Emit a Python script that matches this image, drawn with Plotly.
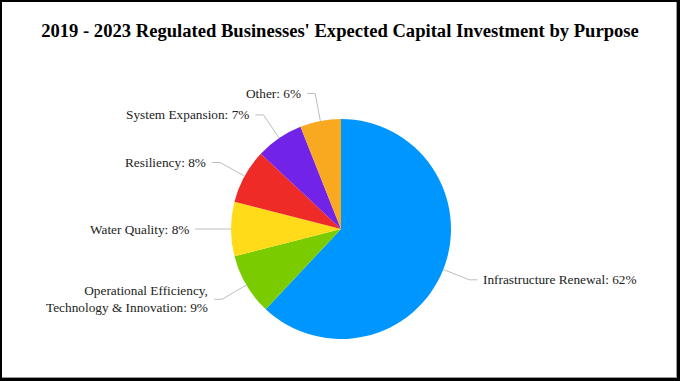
import math
import plotly.graph_objects as go

categories = ["Infrastructure Renewal", "Operational Efficiency,<br>Technology & Innovation",
              "Water Quality", "Resiliency", "System Expansion", "Other"]
values = [62, 9, 8, 8, 7, 6]
colors = ["#0096FF", "#7ACC00", "#FFDB1A", "#EE2B26", "#7123E8", "#F9A91F"]
title_text = "2019 - 2023 Regulated Businesses' Expected Capital Investment by Purpose"

W, H = 680, 381
cx, cy, R = 341, 229, 110  # pie centre/radius in px (top-left origin)

def px(x):
    return x / W

def py(y):
    return 1 - y / H

fig = go.Figure(go.Pie(
    labels=[c.replace("<br>", " ") for c in categories], values=values, sort=False,
    direction="clockwise", rotation=0,
    marker=dict(colors=colors, line=dict(width=0)),
    textinfo="none", hoverinfo="label+percent", showlegend=False,
    domain=dict(x=[px(cx - R), px(cx + R)], y=[py(cy + R), py(cy - R)]),
))

shapes = [
    dict(type="rect", xref="paper", yref="paper", x0=0, x1=1, y0=0, y1=1,
         fillcolor="black", line=dict(width=0), layer="below"),
    dict(type="rect", xref="paper", yref="paper", x0=px(2), x1=px(677), y0=py(378), y1=py(2),
         fillcolor="#9a9a9a", line=dict(width=0), layer="below"),
    dict(type="rect", xref="paper", yref="paper", x0=px(2), x1=px(676), y0=py(377), y1=py(2),
         fillcolor="white", line=dict(width=0), layer="below"),
]
annotations = []
total = sum(values)
cum = 0
for cat, v in zip(categories, values):
    mid = (cum + v / 2) / total * 2 * math.pi
    cum += v
    sx, sy = math.sin(mid), -math.cos(mid)
    ex, ey = cx + R * sx, cy + R * sy
    bx, by = cx + (R + 28) * sx, cy + (R + 28) * sy
    side = 1 if sx > 0 else -1
    hx = bx + side * 8
    shapes.append(dict(type="path", xref="paper", yref="paper",
                       path=f"M {px(ex)} {py(ey)} L {px(bx)} {py(by)} L {px(hx)} {py(by)}",
                       line=dict(color="#bdbdbd", width=1)))
    pct = round(v / total * 100)
    annotations.append(dict(
        x=px(hx + side * 4), y=py(by), xref="paper", yref="paper",
        text=f"{cat}: {pct}%", showarrow=False,
        xanchor="left" if side > 0 else "right", yanchor="middle",
        align="left" if side > 0 else "right",
        font=dict(family="Liberation Serif", size=13.3, color="#222222"),
    ))

fig.update_layout(
    width=W, height=H, margin=dict(l=0, r=0, t=0, b=0),
    paper_bgcolor="white",
    title=dict(text=f"<b>{title_text}</b>", x=0.5, xanchor="center",
               y=py(30), yanchor="middle", yref="container",
               font=dict(family="Liberation Serif", size=18.6, color="black")),
    shapes=shapes, annotations=annotations,
)
fig.write_html("out.html", config={"displayModeBar": False},
               post_script="document.body.style.margin='0';document.body.style.overflow='hidden';")
